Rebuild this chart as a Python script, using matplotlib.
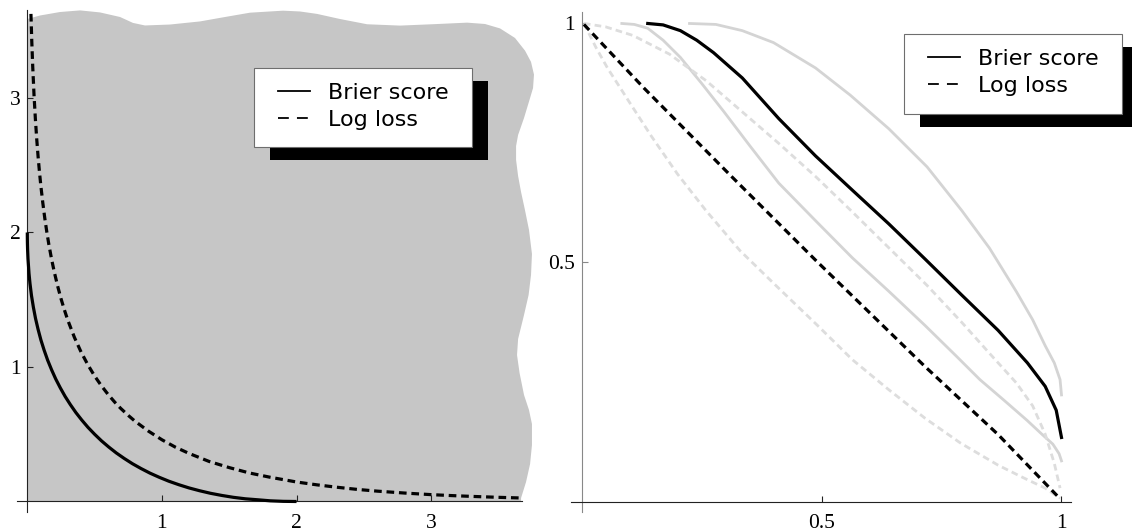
#!/usr/bin/env python3
"""Brier score vs log loss: two-panel line chart with shadowed legends."""

import matplotlib
matplotlib.use("Agg")
import matplotlib.pyplot as plt
import matplotlib.patheffects as pe
from matplotlib.lines import Line2D
from matplotlib.patches import Rectangle

# ---- left panel data -------------------------------------------------------
brier_x = [0.0, 0.0002, 0.0008, 0.002, 0.005, 0.0128, 0.02, 0.031, 0.045,
           0.061, 0.08, 0.101, 0.125, 0.151, 0.18, 0.211, 0.245, 0.281, 0.32,
           0.361, 0.405, 0.451, 0.5, 0.551, 0.605, 0.661, 0.72, 0.781, 0.845,
           0.911, 0.98, 1.051, 1.125, 1.201, 1.28, 1.361, 1.445, 1.531, 1.62,
           1.711, 1.805, 1.901, 2.0]
brier_y = [2.0, 1.96, 1.921, 1.876, 1.805, 1.693, 1.62, 1.531, 1.445, 1.361,
           1.28, 1.201, 1.125, 1.051, 0.98, 0.911, 0.845, 0.781, 0.72, 0.661,
           0.605, 0.551, 0.5, 0.451, 0.405, 0.361, 0.32, 0.281, 0.245, 0.211,
           0.18, 0.151, 0.125, 0.101, 0.08, 0.061, 0.045, 0.031, 0.02, 0.0128,
           0.005, 0.0012, 0.0]

logloss_x = [0.027, 0.033, 0.04, 0.05, 0.06, 0.07, 0.08, 0.09, 0.1, 0.115,
             0.13, 0.145, 0.16, 0.18, 0.2, 0.225, 0.25, 0.275, 0.3, 0.35, 0.4,
             0.45, 0.5, 0.55, 0.6, 0.65, 0.693, 0.75, 0.8, 0.9, 1.0, 1.1, 1.2,
             1.35, 1.5, 1.65, 1.8, 2.0, 2.15, 2.3, 2.45, 2.6, 2.8, 3.0, 3.15,
             3.3, 3.5, 3.67]
logloss_y = [3.625, 3.428, 3.239, 3.02, 2.843, 2.694, 2.566, 2.453, 2.352,
             2.221, 2.105, 2.003, 1.911, 1.803, 1.708, 1.603, 1.509, 1.426,
             1.35, 1.22, 1.11, 1.016, 0.933, 0.861, 0.796, 0.738, 0.693, 0.64,
             0.597, 0.523, 0.459, 0.404, 0.358, 0.298, 0.252, 0.212, 0.181,
             0.145, 0.124, 0.106, 0.09, 0.077, 0.063, 0.051, 0.044, 0.038,
             0.031, 0.026]

# gray region outline (top edge left->right, then right edge top->bottom)
blob_x = [0.0, 0.094, 0.243, 0.392, 0.54, 0.689, 0.785, 0.874, 1.06, 1.283,
          1.469, 1.654, 1.9, 2.026, 2.152, 2.323, 2.524, 2.769, 3.029, 3.267,
          3.4, 3.512, 3.623, 3.698, 3.742, 3.764, 3.757, 3.735, 3.69, 3.646,
          3.631, 3.631, 3.646, 3.668, 3.697, 3.727, 3.749, 3.742, 3.724,
          3.69, 3.646, 3.638, 3.657, 3.69, 3.727, 3.749, 3.749, 3.735, 3.705,
          3.668, 3.668, 0.0]
blob_y = [3.587, 3.613, 3.639, 3.651, 3.636, 3.602, 3.558, 3.539, 3.546,
          3.569, 3.602, 3.634, 3.649, 3.643, 3.625, 3.587, 3.548, 3.538,
          3.549, 3.56, 3.55, 3.517, 3.446, 3.351, 3.268, 3.174, 3.074, 3.0,
          2.851, 2.725, 2.643, 2.539, 2.42, 2.301, 2.167, 2.019, 1.84, 1.684,
          1.535, 1.387, 1.208, 1.089, 0.955, 0.792, 0.68, 0.576, 0.42, 0.279,
          0.145, 0.026, 0.0, 0.0]

# ---- right panel data ------------------------------------------------------
rb_x = [0.138, 0.17, 0.206, 0.24, 0.275, 0.335, 0.411, 0.4875, 0.5635, 0.64,
        0.716, 0.792, 0.868, 0.929, 0.966, 0.989, 1.0]
rb_y = [1.0, 0.997, 0.985, 0.965, 0.939, 0.886, 0.801, 0.723, 0.652, 0.581,
        0.507, 0.432, 0.358, 0.29, 0.241, 0.191, 0.134]

rl_x = [0.005, 0.13, 0.3125, 0.4875, 0.716, 0.868, 0.993]
rl_y = [0.998, 0.865, 0.68, 0.505, 0.282, 0.14, 0.01]

gs1_x = [0.084, 0.11, 0.138, 0.17, 0.206, 0.25, 0.297, 0.35, 0.411, 0.49,
         0.564, 0.64, 0.716, 0.78, 0.83, 0.88, 0.928, 0.96, 0.982, 0.995, 1.0]
gs1_y = [1.0, 0.998, 0.99, 0.965, 0.929, 0.875, 0.815, 0.745, 0.666, 0.585,
         0.51, 0.44, 0.368, 0.305, 0.255, 0.212, 0.17, 0.14, 0.12, 0.1, 0.085]

gs2_x = [0.225, 0.28, 0.335, 0.4, 0.4875, 0.56, 0.64, 0.72, 0.792, 0.85,
         0.906, 0.94, 0.966, 0.985, 0.997, 1.0]
gs2_y = [1.0, 0.998, 0.985, 0.96, 0.907, 0.85, 0.78, 0.7, 0.609, 0.53,
         0.439, 0.38, 0.326, 0.29, 0.255, 0.223]

gd1_x = [0.005, 0.05, 0.107, 0.183, 0.26, 0.335, 0.41, 0.4875, 0.56, 0.64,
         0.72, 0.792, 0.85, 0.906, 0.94, 0.966, 0.985, 0.997]
gd1_y = [1.0, 0.993, 0.975, 0.936, 0.88, 0.815, 0.75, 0.68, 0.61, 0.531,
         0.452, 0.375, 0.31, 0.248, 0.2, 0.141, 0.08, 0.028]

gd2_x = [0.005, 0.03, 0.054, 0.1, 0.145, 0.2, 0.259, 0.33, 0.411, 0.49,
         0.564, 0.64, 0.716, 0.79, 0.868, 0.92, 0.966, 0.997]
gd2_y = [1.0, 0.95, 0.907, 0.835, 0.765, 0.685, 0.609, 0.525, 0.446, 0.37,
         0.297, 0.234, 0.174, 0.122, 0.076, 0.05, 0.028, 0.007]

LEGEND_LABELS = ["Brier score", "Log loss"]

W, H = 1132, 531
SERIF = "Liberation Serif"
DASH = (0, (2.4, 1.5))


def px_axes(fig, x0, y0, x1, y1):
    return fig.add_axes([x0 / W, 1 - y1 / H, (x1 - x0) / W, (y1 - y0) / H])


def style_axes(ax, xcolor, ycolor):
    for s in ("top", "right"):
        ax.spines[s].set_visible(False)
    ax.spines["left"].set_position(("data", 0))
    ax.spines["bottom"].set_position(("data", 0))
    ax.spines["bottom"].set_color(xcolor)
    ax.spines["left"].set_color(ycolor)
    ax.spines["bottom"].set_linewidth(0.8)
    ax.spines["left"].set_linewidth(0.8)
    ax.tick_params(axis="x", direction="in", length=4.5, width=0.8,
                   color=xcolor, pad=9, labelsize=15.5)
    ax.tick_params(axis="y", direction="in", length=4.5, width=0.8,
                   color=ycolor, pad=5, labelsize=15.5)
    for lab in ax.get_xticklabels() + ax.get_yticklabels():
        lab.set_fontfamily(SERIF)
    ax.patch.set_visible(False)


def add_legend(fig, left, top, right, bottom):
    # white box with a hard black drop shadow, drawn in pixel units
    box = Rectangle((left / W, 1 - bottom / H), (right - left) / W,
                    (bottom - top) / H, transform=fig.transFigure,
                    facecolor="white", edgecolor="#6e6e6e", lw=0.8, zorder=4)
    box.set_path_effects([
        pe.SimplePatchShadow(offset=(11.5, -9.4), shadow_rgbFace="black",
                             alpha=1.0),
        pe.Normal(),
    ])
    fig.add_artist(box)
    handles = [Line2D([], [], color="black", lw=1.3),
               Line2D([], [], color="black", lw=1.3, linestyle=(0, (6, 4.5)))]
    leg = fig.legend(handles, LEGEND_LABELS, loc="upper left",
                     bbox_to_anchor=((left + 24) / W, 1 - (top + 14.7) / H),
                     borderaxespad=0, borderpad=0, frameon=False,
                     prop={"family": "DejaVu Sans", "size": 16},
                     handlelength=1.43, handletextpad=0.82,
                     labelspacing=0.315)
    leg.set_zorder(6)
    return leg


def main() -> None:
    fig = plt.figure(figsize=(W / 100, H / 100), dpi=100)

    # left panel
    ax = px_axes(fig, 16.7, 10, 522, 512.3)
    ax.set_xlim(-0.0788, 3.675)
    ax.set_ylim(-0.0803, 3.654)
    ax.fill(blob_x, blob_y, color="#c6c6c6", lw=0, zorder=0, clip_on=False)
    ax.plot(brier_x, brier_y, color="black", lw=2.3, zorder=3,
            solid_capstyle="butt")
    ax.plot(logloss_x, logloss_y, color="black", lw=2.3, linestyle=DASH,
            zorder=3)
    ax.set_xticks([1, 2, 3], ["1", "2", "3"])
    ax.set_yticks([1, 2, 3], ["1", "2", "3"])
    style_axes(ax, "#222222", "#222222")
    add_legend(fig, 254.3, 68.3, 471.7, 147.3)

    # right panel
    ax2 = px_axes(fig, 571, 12, 1071, 511.7)
    ax2.set_xlim(-0.0219, 1.0198)
    ax2.set_ylim(-0.0213, 1.024)
    for gx, gy in [(gs1_x, gs1_y), (gs2_x, gs2_y)]:
        ax2.plot(gx, gy, color="#d4d4d4", lw=2.0, zorder=2)
    for gx, gy in [(gd1_x, gd1_y), (gd2_x, gd2_y)]:
        ax2.plot(gx, gy, color="#dddddd", lw=2.0, linestyle=DASH, zorder=2)
    ax2.plot(rb_x, rb_y, color="black", lw=2.3, zorder=3)
    ax2.plot(rl_x, rl_y, color="black", lw=2.3, linestyle=DASH, zorder=3)
    ax2.set_xticks([0.5, 1], ["0.5", "1"])
    ax2.set_yticks([0.5, 1], ["0.5", "1"])
    style_axes(ax2, "#222222", "#888888")
    add_legend(fig, 904.3, 34.3, 1122.3, 114)

    fig.savefig("out.png", dpi=100)
    plt.close(fig)


if __name__ == "__main__":
    main()
